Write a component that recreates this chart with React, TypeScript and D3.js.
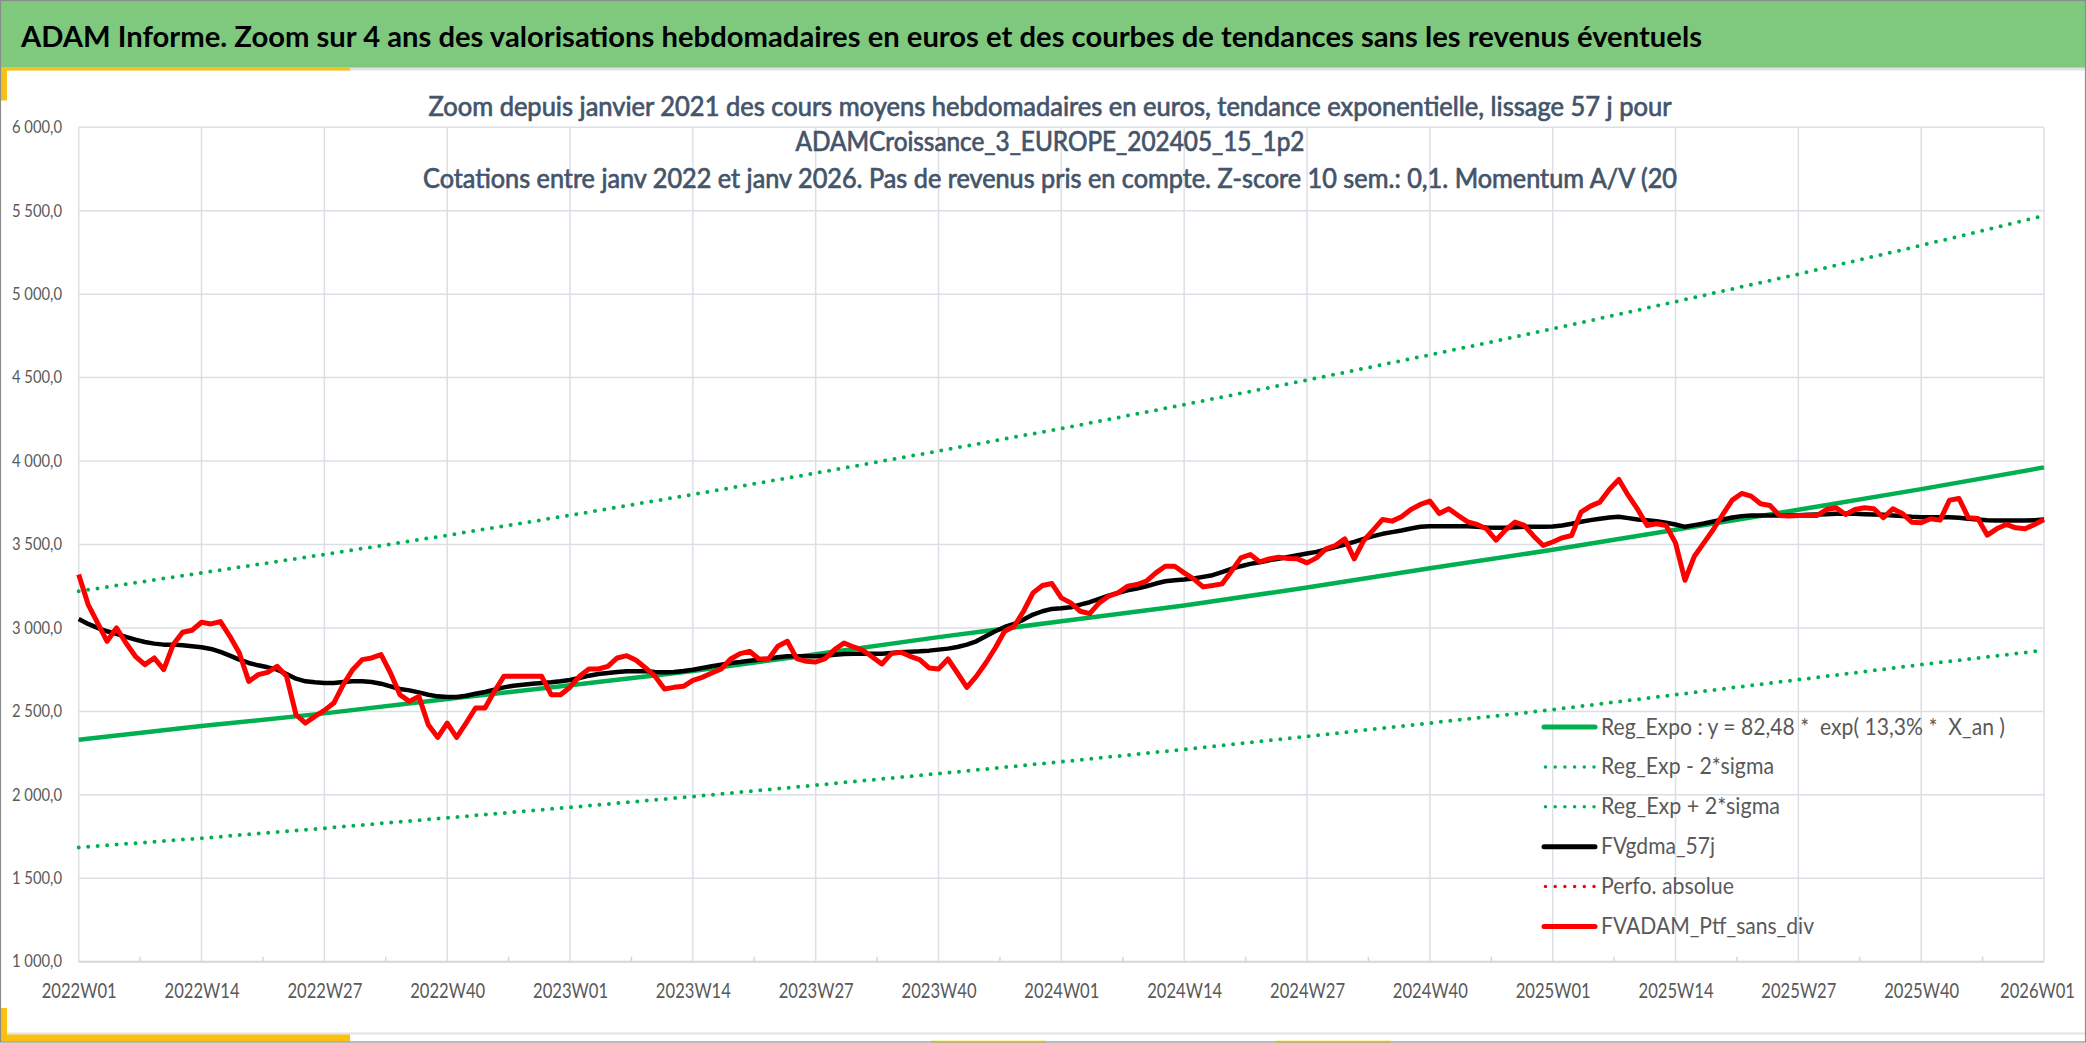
import React, { useRef, useEffect } from "react";
import * as d3 from "d3";

const WIDTH = 2086;
const HEIGHT = 1043;

// Weekly categories 2022W01 .. 2026W01
const years = [2022, 2023, 2024, 2025];
const weeks: string[] = [
    ...years.flatMap(y => d3.range(1, 53).map(w => `${y}W${String(w).padStart(2, "0")}`)),
    "2026W01",
];

const tickLabels = [
    "2022W01", "2022W14", "2022W27", "2022W40",
    "2023W01", "2023W14", "2023W27", "2023W40",
    "2024W01", "2024W14", "2024W27", "2024W40",
    "2025W01", "2025W14", "2025W27", "2025W40",
    "2026W01",
];

const yTicks = [1000, 1500, 2000, 2500, 3000, 3500, 4000, 4500, 5000, 5500, 6000];

const titleText = "ADAM Informe. Zoom sur 4 ans des valorisations hebdomadaires en euros et des courbes de tendances sans les revenus éventuels";
const subtitleLines = [
    "Zoom depuis janvier 2021 des cours moyens hebdomadaires en euros, tendance exponentielle, lissage 57 j pour",
    "ADAMCroissance_3_EUROPE_202405_15_1p2",
    "Cotations entre janv 2022 et janv 2026. Pas de revenus pris en compte. Z-score 10 sem.: 0,1. Momentum A/V (20",
];

// FVADAM_Ptf_sans_div (weekly)
const fvAdam = [
    3320, 3140, 3030, 2920, 3000, 2910, 2830, 2780, 2820, 2750, 2900, 2974, 2986,
    3034, 3024, 3038, 2950, 2850, 2680, 2720, 2734, 2770, 2710, 2480, 2430, 2470,
    2506, 2550, 2660, 2750, 2810, 2820, 2840, 2730, 2600, 2560, 2590, 2420, 2344,
    2430, 2344, 2430, 2520, 2520, 2620, 2710, 2710, 2710, 2710, 2710, 2600, 2600,
    2645, 2710, 2754, 2754, 2770, 2820, 2834, 2806, 2760, 2710, 2634, 2644, 2650,
    2686, 2704, 2730, 2754, 2814, 2846, 2860, 2814, 2814, 2890, 2920, 2816, 2800,
    2796, 2816, 2870, 2910, 2886, 2866, 2826, 2784, 2846, 2854, 2830, 2810, 2760,
    2754, 2814, 2730, 2644, 2710, 2790, 2880, 2980, 3010, 3100, 3210, 3254, 3266,
    3180, 3150, 3100, 3086, 3150, 3190, 3210, 3250, 3260, 3280, 3330, 3370, 3370,
    3330, 3294, 3246, 3254, 3264, 3340, 3420, 3440, 3396, 3414, 3424, 3416, 3414,
    3390, 3420, 3474, 3494, 3534, 3414, 3524, 3586, 3650, 3640, 3666, 3710, 3740,
    3760, 3686, 3714, 3674, 3636, 3620, 3594, 3526, 3586, 3634, 3614, 3550, 3494,
    3515, 3540, 3554, 3694, 3730, 3754, 3830, 3890, 3794, 3710, 3614, 3624, 3614,
    3510, 3286, 3430, 3510, 3590, 3680, 3766, 3806, 3790, 3744, 3734, 3674, 3670,
    3674, 3674, 3674, 3710, 3720, 3680, 3710, 3720, 3714, 3660, 3714, 3686, 3634,
    3630, 3654, 3646, 3766, 3776, 3660, 3656, 3556, 3594, 3620, 3600, 3594, 3620,
    3650,
];

// FVgdma_57j (weekly)
const fvGdma = [
    3054, 3024, 3000, 2980, 2964, 2946, 2930, 2916, 2906, 2900, 2900, 2896, 2890,
    2884, 2874, 2856, 2834, 2810, 2790, 2776, 2764, 2750, 2724, 2696, 2680, 2674,
    2670, 2670, 2676, 2680, 2680, 2676, 2666, 2650, 2634, 2626, 2614, 2600, 2590,
    2586, 2586, 2594, 2606, 2616, 2630, 2644, 2654, 2660, 2666, 2670, 2674, 2680,
    2688, 2700, 2714, 2724, 2730, 2736, 2740, 2740, 2740, 2736, 2734, 2736, 2742,
    2750, 2760, 2770, 2780, 2790, 2796, 2804, 2810, 2816, 2824, 2830, 2830, 2830,
    2830, 2834, 2840, 2844, 2846, 2846, 2846, 2846, 2850, 2854, 2858, 2860, 2864,
    2870, 2876, 2886, 2900, 2920, 2950, 2980, 3006, 3024, 3050, 3080, 3100, 3114,
    3118, 3124, 3140, 3154, 3174, 3194, 3210, 3226, 3236, 3250, 3266, 3280, 3286,
    3290, 3296, 3306, 3316, 3334, 3354, 3370, 3384, 3394, 3406, 3414, 3426, 3436,
    3446, 3456, 3470, 3484, 3500, 3516, 3534, 3550, 3564, 3574, 3584, 3596, 3606,
    3610, 3610, 3610, 3610, 3610, 3606, 3602, 3600, 3600, 3604, 3606, 3606, 3606,
    3608, 3614, 3624, 3636, 3646, 3654, 3662, 3666, 3658, 3650, 3646, 3640, 3630,
    3620, 3606, 3616, 3626, 3638, 3650, 3662, 3670, 3674, 3674, 3674, 3674, 3674,
    3676, 3678, 3680, 3682, 3684, 3684, 3684, 3682, 3680, 3678, 3674, 3670, 3666,
    3664, 3664, 3664, 3664, 3660, 3654, 3650, 3646, 3644, 3644, 3644, 3644, 3646,
    3650,
];

// Trend curves, read at each labelled week
const regExpo = [2330, 2412, 2488, 2574, 2656, 2742, 2842, 2945, 3040, 3135, 3242, 3358, 3468, 3588, 3708, 3832, 3962];
const regExpMinus = [1685, 1740, 1800, 1862, 1925, 1990, 2058, 2127, 2198, 2272, 2350, 2430, 2510, 2600, 2690, 2780, 2866];
const regExpPlus = [3220, 3330, 3440, 3555, 3675, 3800, 3928, 4060, 4195, 4338, 4485, 4636, 4792, 4955, 5120, 5292, 5470];

const legendLabels = [
    "Reg_Expo : y = 82,48 *  exp( 13,3% *  X_an )",
    "Reg_Exp - 2*sigma",
    "Reg_Exp + 2*sigma",
    "FVgdma_57j",
    "Perfo. absolue",
    "FVADAM_Ptf_sans_div",
];

const GREEN = "#00b050";
const RED = "#ff0000";
const FONT = "Lato, 'Open Sans', sans-serif";

export default function App() {
    const svgRef = useRef<SVGSVGElement>(null);

    useEffect(() => {
        document.body.style.margin = "0";
        document.body.style.overflow = "hidden";
        if (!svgRef.current) return;
        const svg = d3.select(svgRef.current);
        svg.selectAll("*").remove();

        const plot = { left: 78.7, right: 2044, top: 127.3, bottom: 961.7 };

        const x = d3.scalePoint<string>().domain(weeks).range([plot.left, plot.right]);
        const y = d3.scaleLinear().domain([1000, 6000]).range([plot.bottom, plot.top]);
        const fr = d3.formatLocale({ decimal: ",", thousands: " ", grouping: [3], currency: ["", " €"] });
        const fmt = fr.format(",.1f");

        svg.append("rect").attr("width", WIDTH).attr("height", HEIGHT).attr("fill", "#ffffff");

        // Header band
        svg.append("rect").attr("x", 0).attr("y", 0).attr("width", WIDTH).attr("height", 68).attr("fill", "#7fc97f");
        svg.append("rect").attr("x", 0).attr("y", 67.5).attr("width", WIDTH).attr("height", 3).attr("fill", "#dfe3e8");
        svg.append("rect").attr("x", 0).attr("y", 67.5).attr("width", 350).attr("height", 3).attr("fill", "#f5c21b");
        svg.append("rect").attr("x", 0).attr("y", 67.5).attr("width", 7).attr("height", 33).attr("fill", "#f5c21b");

        svg.append("text")
            .attr("x", 21).attr("y", 47)
            .attr("font-family", FONT).attr("font-weight", "bold").attr("font-size", 28)
            .attr("fill", "#000000")
            .attr("textLength", 1681).attr("lengthAdjust", "spacingAndGlyphs")
            .text(titleText);

        // Bottom decorations
        svg.append("rect").attr("x", 0).attr("y", 1032.5).attr("width", WIDTH).attr("height", 2).attr("fill", "#dfe3e8");
        svg.append("rect").attr("x", 0).attr("y", 1034.5).attr("width", 350).attr("height", 7).attr("fill", "#fbc10f");
        svg.append("rect").attr("x", 0).attr("y", 1008).attr("width", 7).attr("height", 33).attr("fill", "#fbc10f");
        svg.append("rect").attr("x", 931).attr("y", 1040).attr("width", 115).attr("height", 3).attr("fill", "#fff6a0");
        svg.append("rect").attr("x", 1276).attr("y", 1040).attr("width", 115).attr("height", 3).attr("fill", "#fff6a0");

        // Gridlines
        const grid = svg.append("g").attr("stroke", "#dcdfe6").attr("stroke-width", 1.5);
        grid.selectAll("line.h")
            .data(yTicks.filter(t => t > 1000))
            .join("line")
            .attr("x1", plot.left).attr("x2", plot.right)
            .attr("y1", d => y(d)).attr("y2", d => y(d));
        grid.selectAll("line.v")
            .data(tickLabels)
            .join("line")
            .attr("x1", d => x(d)!).attr("x2", d => x(d)!)
            .attr("y1", plot.top).attr("y2", plot.bottom);

        // Bottom axis (labels stretched a little vertically, like the narrow original font)
        const xStretch = 1.17;
        const labelW = 75;
        const lastLabel = tickLabels[tickLabels.length - 1];
        const xAxis = svg.append("g")
            .attr("transform", `translate(0,${plot.bottom})`)
            .call(d3.axisBottom(x).tickValues(tickLabels).tickSize(0).tickPadding(0));
        xAxis.select(".domain").remove();
        xAxis.selectAll<SVGTextElement, string>("text")
            .attr("y", 36.5 / xStretch).attr("dy", null)
            .attr("transform", `scale(1,${xStretch})`)
            .attr("font-family", FONT).attr("font-size", 18).attr("fill", "#595959")
            .attr("textLength", labelW).attr("lengthAdjust", "spacingAndGlyphs");
        // last label sits against the right edge: anchor it at its end, a few px inside
        xAxis.selectAll<SVGTextElement, string>("text")
            .filter(d => d === lastLabel)
            .attr("text-anchor", "end")
            .attr("x", labelW / 2 - 7);
        svg.append("line")
            .attr("x1", plot.left).attr("x2", plot.right)
            .attr("y1", plot.bottom).attr("y2", plot.bottom)
            .attr("stroke", "#d3d6dc").attr("stroke-width", 2);
        const minor = d3.range(tickLabels.length - 1).map(k => (x(tickLabels[k])! + x(tickLabels[k + 1])!) / 2);
        svg.append("g").selectAll("line")
            .data(minor)
            .join("line")
            .attr("x1", d => d).attr("x2", d => d)
            .attr("y1", plot.bottom).attr("y2", plot.bottom - 5)
            .attr("stroke", "#d3d6dc").attr("stroke-width", 1.5);

        // Left axis labels
        const yAxis = svg.append("g")
            .attr("transform", `translate(${plot.left},0)`)
            .call(d3.axisLeft(y).tickValues(yTicks).tickFormat(d => fmt(d as number)).tickSize(0).tickPadding(16.7));
        yAxis.select(".domain").remove();
        yAxis.selectAll("text")
            .attr("font-family", FONT).attr("font-size", 16.5).attr("fill", "#595959")
            .attr("textLength", 50).attr("lengthAdjust", "spacingAndGlyphs");

        // Subtitle (slightly heavier than regular weight)
        const subWidths = [1243, 509, 1254];
        const subBase = [116, 151, 188];
        svg.append("g").selectAll("text")
            .data(subtitleLines)
            .join("text")
            .attr("x", 1050).attr("y", (_, i) => subBase[i])
            .attr("text-anchor", "middle")
            .attr("font-family", FONT).attr("font-size", 26).attr("fill", "#44546a")
            .attr("stroke", "#44546a").attr("stroke-width", 0.7)
            .attr("textLength", (_, i) => subWidths[i]).attr("lengthAdjust", "spacingAndGlyphs")
            .text(d => d);

        // Series
        const weekLine = d3.line<number>().x((_, i) => x(weeks[i])!).y(d => y(d));
        const trendLine = d3.line<number>().x((_, i) => x(tickLabels[i])!).y(d => y(d));

        const series = svg.append("g").attr("fill", "none").attr("stroke-linejoin", "round");
        series.append("path").datum(regExpo).attr("d", trendLine)
            .attr("stroke", GREEN).attr("stroke-width", 4.5);
        series.append("path").datum(regExpMinus).attr("d", trendLine)
            .attr("stroke", GREEN).attr("stroke-width", 4)
            .attr("stroke-dasharray", "0 9.5").attr("stroke-linecap", "round");
        series.append("path").datum(regExpPlus).attr("d", trendLine)
            .attr("stroke", GREEN).attr("stroke-width", 4)
            .attr("stroke-dasharray", "0 9.5").attr("stroke-linecap", "round");
        series.append("path").datum(fvGdma).attr("d", weekLine)
            .attr("stroke", "#000000").attr("stroke-width", 4.5);
        series.append("path").datum(fvAdam).attr("d", weekLine)
            .attr("stroke", RED).attr("stroke-width", 5);

        // Legend
        const legendStyles = [
            { color: GREEN, dotted: false },
            { color: GREEN, dotted: true },
            { color: GREEN, dotted: true },
            { color: "#000000", dotted: false },
            { color: RED, dotted: true },
            { color: RED, dotted: false },
        ];
        const legendWidths = [404, 173, 179, 114, 133, 213];
        const legend = svg.append("g").attr("transform", "translate(1544,727)");
        legendLabels.forEach((label, i) => {
            const row = legend.append("g").attr("transform", `translate(0,${i * 39.9})`);
            const st = legendStyles[i];
            const ln = row.append("line")
                .attr("x1", st.dotted ? 1.5 : 0).attr("x2", 51)
                .attr("y1", 0).attr("y2", 0)
                .attr("stroke", st.color);
            if (st.dotted) {
                ln.attr("stroke-width", 3.5).attr("stroke-dasharray", "0 9.7").attr("stroke-linecap", "round");
            } else {
                ln.attr("stroke-width", 5).attr("stroke-linecap", "round");
            }
            row.append("text")
                .attr("x", 57).attr("y", 7.5)
                .attr("font-family", FONT).attr("font-size", 23.5).attr("fill", "#595959")
                .attr("textLength", legendWidths[i]).attr("lengthAdjust", "spacingAndGlyphs")
                .style("white-space", "pre")
                .text(label);
        });

        // Outer frame
        svg.append("rect")
            .attr("x", 0.5).attr("y", 0.5).attr("width", WIDTH - 1).attr("height", HEIGHT - 1.5)
            .attr("fill", "none").attr("stroke", "#8c8c8c").attr("stroke-width", 1.2);
    }, []);

    return (
        <svg
            ref={svgRef}
            width={WIDTH}
            height={HEIGHT}
            style={{ position: "absolute", left: 0, top: 0, display: "block" }}
        />
    );
}
